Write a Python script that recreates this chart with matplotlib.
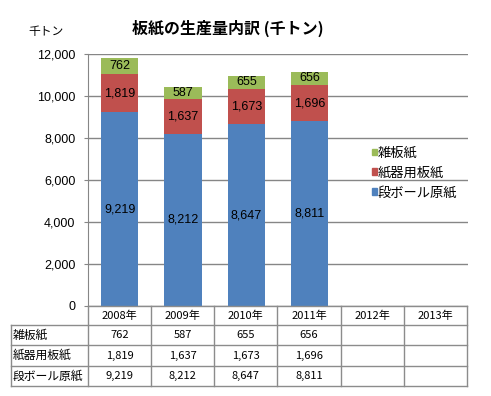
import numpy as np
import matplotlib.pyplot as plt
from matplotlib.patches import Patch
from matplotlib.lines import Line2D

plt.rcParams['font.family'] = ['Noto Sans CJK JP', 'DejaVu Sans']
ARIAL = ['Liberation Sans', 'Noto Sans CJK JP']

# data
years = ['2008年', '2009年', '2010年', '2011年', '2012年', '2013年']
series_names = ['段ボール原紙', '紙器用板紙', '雑板紙']
danboru = [9219, 8212, 8647, 8811]
shiki = [1819, 1637, 1673, 1696]
zatsu = [762, 587, 655, 656]
colors = ['#4F81BD', '#C0504D', '#9BBB59']

W, H = 491, 396
fig = plt.figure(figsize=(W / 100, H / 100), dpi=100)

def fx(x):
    return x / W

def fy(y):
    return 1 - y / H

# plot area in pixels
x0, x1, y0, y1 = 88, 468, 54, 306
ax = fig.add_axes([fx(x0), fy(y1), fx(x1) - fx(x0), fy(y0) - fy(y1)])

series = [danboru, shiki, zatsu]
xs = np.arange(len(danboru))
bottom = np.zeros(len(danboru))
for vals, c in zip(series, colors):
    vals = np.array(vals)
    ax.bar(xs, vals, width=0.585, bottom=bottom, color=c, zorder=3)
    for xi, v, b in zip(xs, vals, bottom):
        ax.text(xi, b + v / 2, f'{v:,}', ha='center', va='center',
                fontsize=9, family=ARIAL, color='black', zorder=4)
    bottom = bottom + vals

ax.set_xlim(-0.5, len(years) - 0.5)
ax.set_ylim(0, 12000)
ax.set_yticks(np.arange(0, 12001, 2000))
ax.set_yticklabels([f'{v:,}' for v in range(0, 12001, 2000)], fontsize=9, family=ARIAL)
ax.yaxis.grid(True, color='#868686', lw=1, zorder=0)
ax.set_xticks([])
ax.tick_params(axis='y', length=3, color='#868686', pad=6)
for s in ['top', 'right', 'bottom']:
    ax.spines[s].set_visible(False)
ax.spines['left'].set_color('#868686')

# titles
fig.text(fx(228), fy(28), '板紙の生産量内訳 (千トン)', ha='center', va='center',
         fontsize=11.5, fontweight='bold')
fig.text(fx(46), fy(32), '千トン', ha='center', va='center', fontsize=8.5)

# legend
handles = [Patch(color=c, label=n) for n, c in zip(series_names, colors)][::-1]
fig.legend(handles=handles, loc='center left', bbox_to_anchor=(fx(365), fy(173)),
           frameon=False, fontsize=9.5, handlelength=0.4, handleheight=0.4,
           handletextpad=0.08, labelspacing=0.52, borderpad=0)

# data table
cols = [11, 88, 151, 214, 277, 341, 404, 467]
rows = [306, 325, 345, 366, 386]
gray = '#8c8c8c'

def hline(y, xa, xb):
    fig.add_artist(Line2D([fx(xa), fx(xb)], [fy(y), fy(y)], color=gray, lw=1))

def vline(x, ya, yb):
    fig.add_artist(Line2D([fx(x), fx(x)], [fy(ya), fy(yb)], color=gray, lw=1))

hline(rows[0], cols[1], cols[-1])
for r in rows[1:]:
    hline(r, cols[0], cols[-1])
vline(cols[0], rows[1], rows[-1])
for c in cols[1:]:
    vline(c, rows[0], rows[-1])

for i, yr in enumerate(years):
    cx = (cols[i + 1] + cols[i + 2]) / 2
    fig.text(fx(cx), fy((rows[0] + rows[1]) / 2), yr, ha='center', va='center', fontsize=8)

table_rows = [('雑板紙', zatsu), ('紙器用板紙', shiki), ('段ボール原紙', danboru)]
for j, (name, vals) in enumerate(table_rows):
    cy = (rows[j + 1] + rows[j + 2]) / 2
    fig.text(fx(cols[0] + 2), fy(cy), name, ha='left', va='center', fontsize=8.5)
    for i, v in enumerate(vals):
        cx = (cols[i + 1] + cols[i + 2]) / 2
        fig.text(fx(cx), fy(cy), f'{v:,}', ha='center', va='center', fontsize=8)

fig.savefig('out.png', dpi=100)
